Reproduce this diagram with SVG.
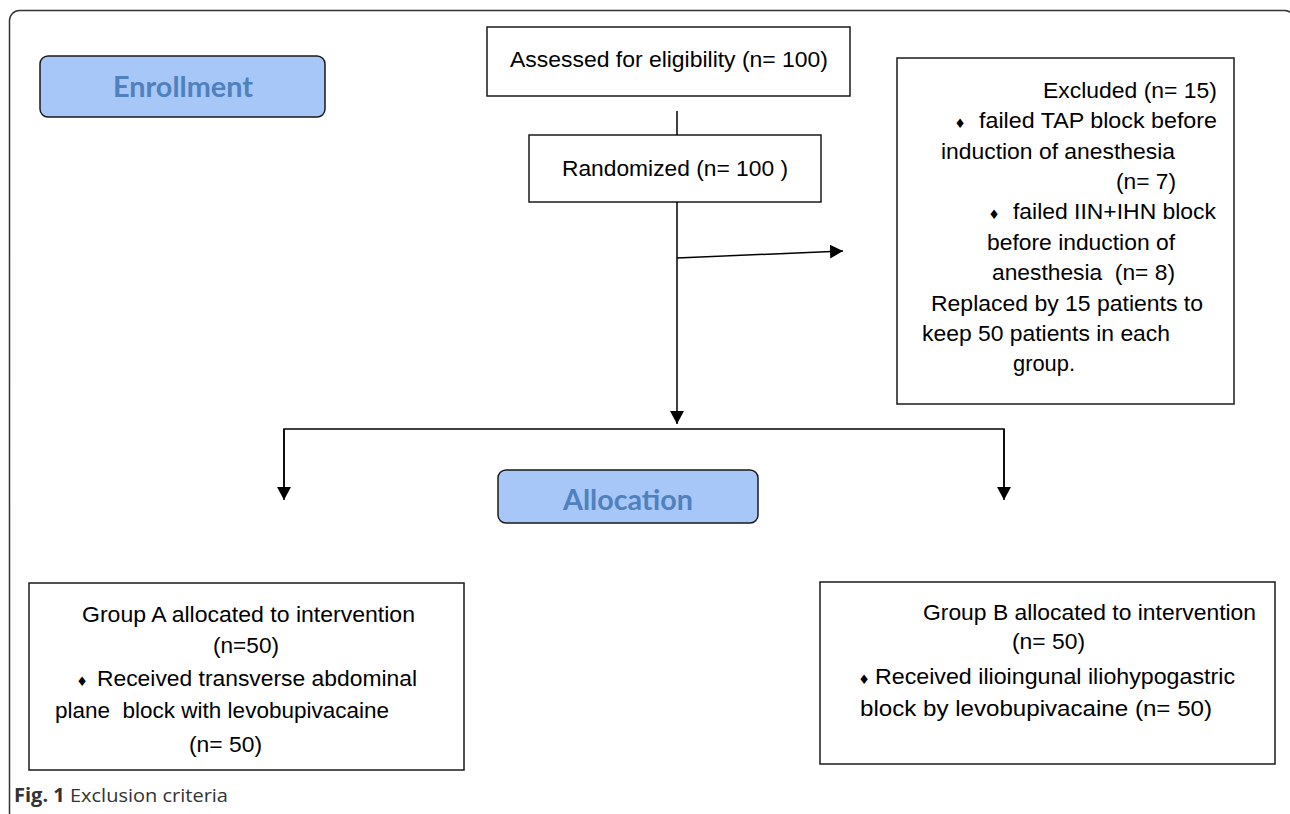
<svg xmlns="http://www.w3.org/2000/svg" width="1290" height="814" viewBox="0 0 1290 814">
<defs>
<marker id="arr" markerUnits="userSpaceOnUse" markerWidth="14" markerHeight="14" refX="13" refY="7" orient="auto">
<path d="M0,0 L13,7 L0,14 z" fill="#000"/>
</marker>
<style>
.box{fill:#fff;stroke:#1a1a1a;stroke-width:1.5}
.stage{fill:#a7c7f8;stroke:#1a1a1a;stroke-width:1.5}
.stxt{font-family:Lato,"Open Sans",sans-serif;font-weight:bold;font-size:28px;fill:#4f81bd}
.t{font-family:"Liberation Sans",Arial,sans-serif;font-size:22px;fill:#000;white-space:pre}
.b{font-family:"DejaVu Sans",sans-serif;font-size:13px;fill:#000;text-anchor:middle}
.ln{fill:none;stroke:#000;stroke-width:1.5}
.cap{font-family:"Open Sans",sans-serif;font-size:19px;fill:#333}
</style>
</defs>
<rect width="1290" height="814" fill="#fff"/>
<rect x="9.5" y="10.5" width="1285" height="812" rx="10" fill="none" stroke="#333" stroke-width="1.5"/>

<g id="enrollment">
<rect class="stage" x="40" y="56" width="285" height="61" rx="8"/>
<text class="stxt" x="113" y="97" textLength="140" lengthAdjust="spacingAndGlyphs">Enrollment</text>
</g>

<g id="assessed">
<rect class="box" x="487" y="27" width="363" height="69"/>
<text class="t" x="510" y="67" textLength="318" lengthAdjust="spacingAndGlyphs">Assessed for eligibility (n= 100)</text>
</g>

<g id="randomized">
<rect class="box" x="529" y="135" width="292" height="67"/>
<text class="t" x="562" y="176" textLength="226" lengthAdjust="spacingAndGlyphs">Randomized (n= 100 )</text>
</g>

<g id="excluded">
<rect class="box" x="897" y="58" width="337" height="346"/>
<text class="t" x="1043" y="98" textLength="174" lengthAdjust="spacingAndGlyphs">Excluded (n= 15)</text>
<text class="b" x="960" y="128">♦</text>
<text class="t" x="979" y="128" textLength="238" lengthAdjust="spacingAndGlyphs">failed TAP block before</text>
<text class="t" x="941" y="159" textLength="234" lengthAdjust="spacingAndGlyphs">induction of anesthesia</text>
<text class="t" x="1116" y="189" textLength="60" lengthAdjust="spacingAndGlyphs">(n= 7)</text>
<text class="b" x="994" y="219">♦</text>
<text class="t" x="1013" y="219" textLength="203" lengthAdjust="spacingAndGlyphs">failed IIN+IHN block</text>
<text class="t" x="987" y="250" textLength="188" lengthAdjust="spacingAndGlyphs">before induction of</text>
<text class="t" x="992" y="280" textLength="183" lengthAdjust="spacingAndGlyphs">anesthesia  (n= 8)</text>
<text class="t" x="931" y="311" textLength="272" lengthAdjust="spacingAndGlyphs">Replaced by 15 patients to</text>
<text class="t" x="922" y="341" textLength="248" lengthAdjust="spacingAndGlyphs">keep 50 patients in each</text>
<text class="t" x="1013" y="371" textLength="62" lengthAdjust="spacingAndGlyphs">group.</text>
</g>

<g id="allocation">
<rect class="stage" x="498" y="470" width="260" height="53" rx="8"/>
<text class="stxt" x="563" y="510" textLength="130" lengthAdjust="spacingAndGlyphs">Allocation</text>
</g>

<g id="groupA">
<rect class="box" x="29" y="583" width="435" height="187"/>
<text class="t" x="82" y="622" textLength="333" lengthAdjust="spacingAndGlyphs">Group A allocated to intervention</text>
<text class="t" x="213" y="653" textLength="66" lengthAdjust="spacingAndGlyphs">(n=50)</text>
<text class="b" x="82" y="686">♦</text>
<text class="t" x="97" y="686" textLength="320" lengthAdjust="spacingAndGlyphs">Received transverse abdominal</text>
<text class="t" x="55" y="718" textLength="334" lengthAdjust="spacingAndGlyphs">plane  block with levobupivacaine</text>
<text class="t" x="189" y="752" textLength="73" lengthAdjust="spacingAndGlyphs">(n= 50)</text>
</g>

<g id="groupB">
<rect class="box" x="820" y="582" width="455" height="182"/>
<text class="t" x="923" y="620" textLength="333" lengthAdjust="spacingAndGlyphs">Group B allocated to intervention</text>
<text class="t" x="1012" y="649" textLength="73" lengthAdjust="spacingAndGlyphs">(n= 50)</text>
<text class="b" x="864" y="684">♦</text>
<text class="t" x="875" y="684" textLength="360" lengthAdjust="spacingAndGlyphs">Received ilioingunal iliohypogastric</text>
<text class="t" x="860" y="716" textLength="352" lengthAdjust="spacingAndGlyphs">block by levobupivacaine (n= 50)</text>
</g>

<g id="connectors">
<line class="ln" x1="677" y1="111" x2="677" y2="135"/>
<line class="ln" x1="677" y1="202" x2="677" y2="424" marker-end="url(#arr)"/>
<line class="ln" x1="677" y1="258" x2="843" y2="251" marker-end="url(#arr)"/>
<polyline class="ln" points="284,490 284,429 1004,429 1004,490"/>
<line class="ln" x1="284" y1="429" x2="284" y2="500" marker-end="url(#arr)"/>
<line class="ln" x1="1004" y1="429" x2="1004" y2="500" marker-end="url(#arr)"/>
</g>

<g id="caption">
<text class="cap" x="14" y="802" textLength="214" lengthAdjust="spacingAndGlyphs"><tspan font-weight="bold">Fig. 1</tspan> Exclusion criteria</text>
</g>
</svg>
